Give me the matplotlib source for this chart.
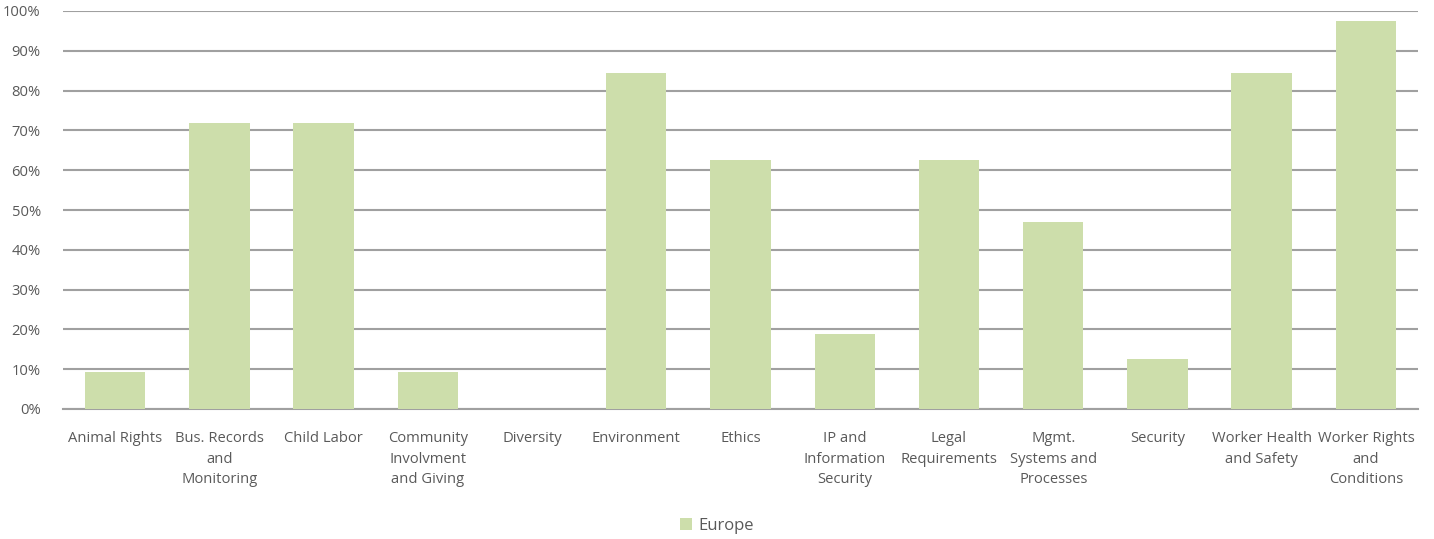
import matplotlib
matplotlib.use("Agg")
import matplotlib.pyplot as plt
from matplotlib.ticker import FuncFormatter

# 类别与数值
categories = ["Animal Rights", "Bus. Records\nand\nMonitoring", "Child Labor",
              "Community\nInvolvment\nand Giving", "Diversity", "Environment",
              "Ethics", "IP and\nInformation\nSecurity", "Legal\nRequirements",
              "Mgmt.\nSystems and\nProcesses", "Security",
              "Worker Health\nand Safety", "Worker Rights\nand\nConditions"]
europe = [0.094, 0.719, 0.719, 0.094, 0.0, 0.844, 0.625, 0.1875, 0.625,
          0.469, 0.125, 0.844, 0.974]
yticks = [i / 10 for i in range(11)]

plt.rcParams['font.family'] = ['Open Sans', 'DejaVu Sans']
text_color = "#595959"

fig = plt.figure(figsize=(14.34, 5.39), dpi=100)
ax = fig.add_axes([63 / 1434, 1 - 409 / 539, (1418 - 63) / 1434, (409 - 11) / 539])

x = list(range(len(categories)))
ax.bar(x, europe, width=0.58, color="#cddeab", label="Europe", zorder=3)

ax.set_xlim(-0.5, len(categories) - 0.5)
ax.set_ylim(0, 1)
ax.set_yticks(yticks)
ax.yaxis.set_major_formatter(FuncFormatter(lambda v, p: f"{v * 100:.0f}%"))
ax.grid(axis="y", color="#a0a0a0", linewidth=1.5, zorder=0)
ax.set_xticks(x)
ax.set_xticklabels(categories, linespacing=1.5, va="top")
ax.tick_params(axis="x", length=0, pad=16, labelsize=10.6, labelcolor=text_color)
ax.tick_params(axis="y", length=0, pad=16, labelsize=10.6, labelcolor=text_color)
for side in ["top", "right", "left"]:
    ax.spines[side].set_visible(False)
ax.spines["bottom"].set_color("#a0a0a0")
ax.spines["bottom"].set_linewidth(1.5)

fig.legend(loc="center", bbox_to_anchor=(0.5, 1 - 526 / 539), frameon=False,
           fontsize=12, labelcolor=text_color, handlelength=0.75, handleheight=0.75,
           handletextpad=0.4)

fig.savefig("out.png", dpi=100)
